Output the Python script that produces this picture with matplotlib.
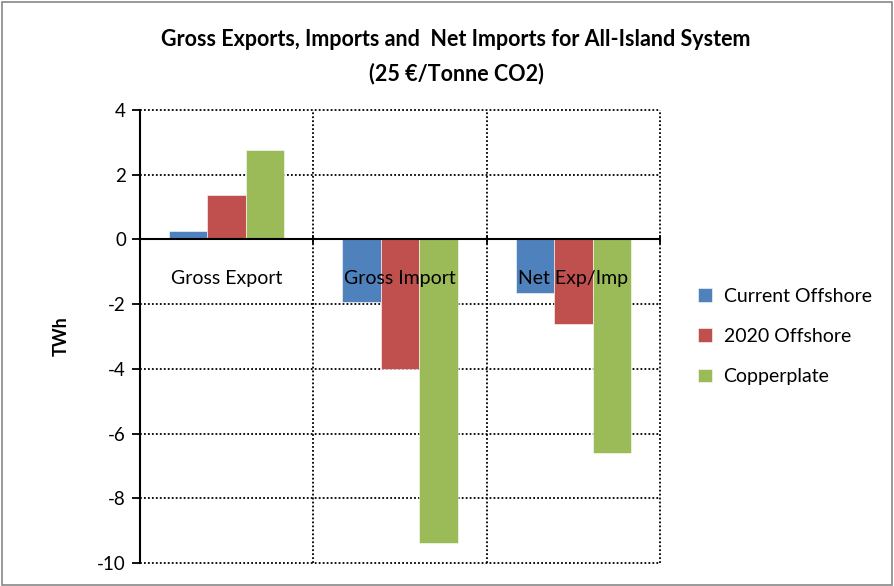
import numpy as np
import matplotlib.pyplot as plt
from matplotlib.patches import Rectangle

# data
categories = ["Gross Export", "Gross Import", "Net Exp/Imp"]
series_names = ["Current Offshore", "2020 Offshore", "Copperplate"]
current_offshore = [0.25, -1.92, -1.65]
offshore_2020 = [1.36, -4.0, -2.6]
copperplate = [2.75, -9.38, -6.6]
yticks = [4, 2, 0, -2, -4, -6, -8, -10]

colors = ["#4F81BD", "#C0504D", "#9BBB59"]
plt.rcParams['font.family'] = ['Lato', 'DejaVu Sans']

fig = plt.figure(figsize=(8.94, 5.86), dpi=100)
ax = fig.add_axes([140 / 894, 23 / 586, 520 / 894, 453 / 586])

x = np.arange(len(categories))
w = 1 / 4.5
for i, (vals, name) in enumerate(zip([current_offshore, offshore_2020, copperplate], series_names)):
    ax.bar(x + (i - 1) * w, vals, w, color=colors[i], label=name, zorder=3,
           edgecolor="white", linewidth=0.4)

ax.set_xlim(-0.5, len(categories) - 0.5)
ax.set_ylim(-10, 4)
ax.set_yticks(yticks)
ax.set_yticklabels([str(t) for t in yticks], fontsize=13.5)
ax.set_xticks([])

# dotted grid
dots = (0, (1, 1.2))
for t in yticks:
    if t != 0:
        ax.axhline(t, color="black", linestyle=dots, linewidth=1.3, zorder=1, clip_on=False)
for b in np.arange(0.5, len(categories) + 0.5, 1):
    ax.axvline(b, color="black", linestyle=dots, linewidth=1.3, zorder=1, clip_on=False)

for s in ["top", "right", "bottom"]:
    ax.spines[s].set_visible(False)
ax.spines["left"].set_linewidth(1.5)
ax.spines["left"].set_zorder(5)
ax.tick_params(axis="y", length=6, width=1.3, direction="out", pad=4)

# zero line with category tick marks
ax.axhline(0, color="black", linewidth=1.5, zorder=4)
for b in np.arange(-0.5, len(categories), 1):
    ax.plot([b, b], [-0.1, 0.1], color="black", linewidth=1.3, zorder=4, clip_on=False)

for xi, c in zip(x, categories):
    ax.text(xi, -1.2, c, ha="center", va="center", fontsize=14, zorder=5)

ax.set_ylabel("TWh", fontsize=13, fontweight="bold", labelpad=20)

fig.suptitle("Gross Exports, Imports and  Net Imports for All-Island System\n(25 €/Tonne CO2)",
             x=0.51, y=0.95, fontsize=15.5, fontweight="bold", linespacing=1.7)

ax.legend(loc="center left", bbox_to_anchor=(1.04, 0.5), frameon=False, fontsize=14,
          handlelength=0.7, handleheight=0.7, handletextpad=0.6, labelspacing=1.2)

fig.patches.append(Rectangle((0.002, 0.002), 0.996, 0.994, transform=fig.transFigure,
                             fill=False, edgecolor="#888888", linewidth=1.2))

fig.savefig("out.png", dpi=100)
